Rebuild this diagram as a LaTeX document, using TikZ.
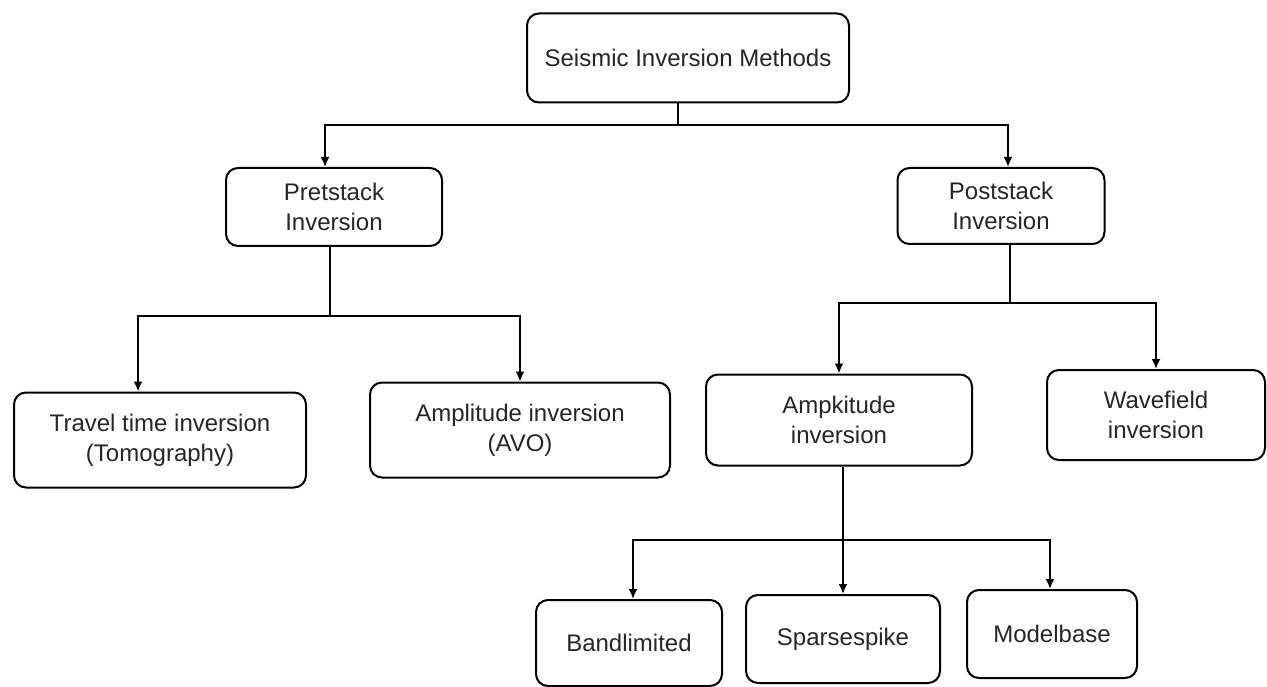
\documentclass[tikz,border=0pt]{standalone}
\usepackage{fontspec}
\setmainfont{Liberation Sans}
\usetikzlibrary{arrows.meta}
\begin{document}
\begin{tikzpicture}[x=1pt,y=-1pt,
  box/.style={draw, line width=2pt, rounded corners=12pt, align=center,
    inner sep=0pt, font=\fontsize{24}{30}\selectfont, text=black!85},
  link/.style={line width=1.8pt},
  arr/.style={link, -{Latex[length=10pt,width=9pt]}}]
\useasboundingbox[fill=white] (0,0) rectangle (1267,687);

% boxes
\node[box, minimum width=322pt, minimum height=89pt] (top) at (688,58) {Seismic Inversion Methods};
\node[box, minimum width=216pt, minimum height=78pt] (pre) at (334,207) {Pretstack\\Inversion};
\node[box, minimum width=207pt, minimum height=76pt] (post) at (1001,206) {Poststack\\Inversion};
\node[box, minimum width=292pt, minimum height=95pt] (travel) at (160,440) {Travel time inversion\\(Tomography)};
\node[box, minimum width=300pt, minimum height=95pt] (avo) at (520,430) {Amplitude inversion\\(AVO)};
\node[box, minimum width=266pt, minimum height=91pt] (ampk) at (839,420) {Ampkitude\\inversion};
\node[box, minimum width=218pt, minimum height=90pt] (wave) at (1156,415) {Wavefield\\inversion};
\node[box, minimum width=186pt, minimum height=86pt] (band) at (629,643) {Bandlimited};
\node[box, minimum width=194pt, minimum height=88pt] (sparse) at (843,639) {Sparsespike};
\node[box, minimum width=170pt, minimum height=88pt] (model) at (1052,634) {Modelbase};

% junction points of the bus lines
\coordinate (j1) at (678,125);
\coordinate (j2) at (330,316);
\coordinate (j3) at (1010,303);
\coordinate (j4) at (843,540);

% top level
\draw[link] (top.south -| j1) -- (j1);
\draw[arr] (j1) -| ([xshift=-9pt]pre.north);
\draw[arr] (j1) -| ([xshift=7pt]post.north);

% pretstack branch
\draw[link] (pre.south -| j2) -- (j2);
\draw[arr] (j2) -| ([xshift=-22pt]travel.north);
\draw[arr] (j2) -| (avo.north);

% poststack branch
\draw[link] (post.south -| j3) -- (j3);
\draw[arr] (j3) -| (ampk.north);
\draw[arr] (j3) -| (wave.north);

% amplitude branch
\draw[arr] (ampk.south -| j4) -- (sparse.north -| j4);
\draw[arr] (j4) -| ([xshift=4pt]band.north);
\draw[arr] (j4) -| ([xshift=-2pt]model.north);
\end{tikzpicture}
\end{document}
